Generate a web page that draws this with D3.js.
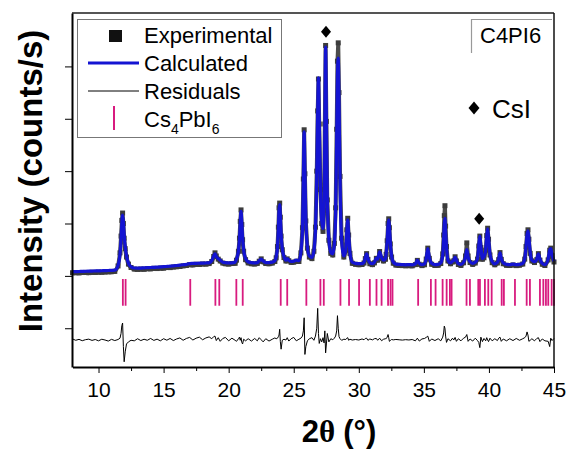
<!DOCTYPE html>
<html>
<head>
<meta charset="utf-8">
<script src="https://cdn.jsdelivr.net/npm/d3@7"></script>
<style>
  body { margin: 0; background: #fff; }
  svg { display: block; font-family: "Liberation Sans", Arial, sans-serif; }
</style>
</head>
<body>
<div id="chart"></div>
<script>
// 2theta sampling (deg), denser around the reflections
var twoTheta = [
  8, 8.25, 8.5, 8.75, 9, 9.25, 9.5, 9.75, 10, 10.25, 10.5, 10.75, 11, 11.25,
  11.5, 11.65, 11.73, 11.79, 11.85, 11.91, 11.97, 12.05, 12.15, 12.3, 12.5,
  12.75, 13, 13.25, 13.5, 13.75, 14, 14.25, 14.5, 14.75, 15, 15.25, 15.5, 15.75, 16, 16.25, 16.5, 16.75, 17, 17.25, 17.5, 17.75, 18, 18.25, 18.5,
  18.7, 18.85, 18.95, 19.05, 19.2, 19.35, 19.55,
  19.75, 20, 20.25, 20.5,
  20.6, 20.75, 20.83, 20.89, 20.95, 21.01, 21.07, 21.15, 21.3,
  21.5, 21.75, 22, 22.2, 22.35, 22.5, 22.65, 22.85, 23.1, 23.35, 23.55,
  23.65, 23.75, 23.82, 23.87, 23.92, 23.97, 24.03, 24.12, 24.25,
  24.4, 24.5, 24.62, 24.8, 25, 25.2,
  25.4, 25.55, 25.67, 25.74, 25.8, 25.86, 25.93, 26.05, 26.2, 26.4,
  26.55, 26.67, 26.77, 26.84, 26.9, 26.96, 27.05, 27.15, 27.25, 27.33,
  27.39, 27.45, 27.51, 27.58, 27.7, 27.85, 28, 28.12, 28.22, 28.3,
  28.36, 28.42, 28.48, 28.56, 28.68, 28.85, 29, 29.08, 29.15, 29.22, 29.32, 29.5,
  29.75, 30, 30.25, 30.4, 30.5, 30.6, 30.7, 30.85, 31.05, 31.2, 31.35, 31.45, 31.6, 31.75, 31.9, 32.05,
  32.1, 32.18, 32.25, 32.3, 32.35, 32.42, 32.52, 32.65, 32.85, 33.1, 33.35, 33.6, 33.85, 34.1,
  34.35, 34.5, 34.65, 34.85, 35.05, 35.18, 35.3, 35.42, 35.6, 35.85, 36.1, 36.3,
  36.45, 36.52, 36.57, 36.62, 36.67, 36.74, 36.85, 37.05, 37.2, 37.3, 37.4, 37.5, 37.65, 37.85,
  38.05, 38.2, 38.3, 38.4, 38.55, 38.75, 38.95, 39.12, 39.22, 39.3, 39.38, 39.5, 39.62,
  39.75, 39.83, 39.9, 39.97, 40.08, 40.25, 40.45, 40.65, 40.75, 40.85, 40.95, 41.1,
  41.35, 41.6, 41.85, 42.1, 42.35, 42.6, 42.75, 42.85, 42.93, 43, 43.07, 43.17, 43.3,
  43.5, 43.68, 43.8, 43.92, 44.1, 44.3, 44.55, 44.67, 44.75, 44.85, 45
];

var calculated = [
  80, 82, 84, 86, 88, 90, 92, 94, 96, 98, 100, 103, 106, 110,
  200, 420, 700, 1000, 1160, 1020, 780, 560, 380, 240, 175,
  150, 148, 150, 153, 157, 160, 163, 167, 171, 175, 180, 186, 192, 198, 205, 212, 220, 235, 238, 240, 242, 244, 246, 250,
  290, 380, 420, 370, 330, 300, 262,
  252, 248, 250, 262,
  320, 480, 700, 1000, 1230, 1000, 720, 500, 330,
  270, 252, 248, 252, 290, 320, 285, 255, 255, 262, 290,
  360, 560, 900, 1250, 1360, 1150, 800, 520, 370,
  300, 330, 300, 275, 280, 300,
  290, 450, 900, 1800, 2750, 2000, 1100, 550, 380, 350,
  480, 900, 1900, 3100, 3780, 3000, 1700, 1050, 900, 1300,
  2800, 4370, 3000, 1500, 700, 450, 420, 600, 1200, 2600,
  3800, 4160, 3300, 1800, 700, 380, 500, 850, 1070, 800, 450, 260,
  240, 235, 235, 260, 340, 420, 330, 250, 235, 260, 340, 320, 460, 350, 300, 330,
  420, 650, 960, 1070, 940, 640, 380, 260, 225, 218, 215, 212, 215, 212,
  230, 300, 240, 215, 230, 330, 520, 350, 240, 215, 220, 250,
  400, 700, 1000, 1100, 850, 550, 300, 250, 280, 300, 360, 300, 235, 220,
  260, 360, 500, 360, 270, 240, 260, 330, 580, 760, 560, 330, 360,
  500, 760, 900, 720, 420, 270, 230, 260, 320, 440, 330, 250,
  220, 215, 225, 215, 220, 240, 330, 550, 780, 860, 720, 450, 300,
  270, 320, 420, 320, 240, 215, 320, 500, 520, 400, 280
];

var experimental = [
  60, 62, 58, 64, 66, 62, 70, 66, 72, 70, 76, 78, 80, 86,
  190, 440, 760, 1060, 1200, 1000, 720, 520, 360, 225, 160,
  130, 125, 132, 128, 138, 134, 145, 140, 150, 148, 160, 158, 170, 176, 180, 192, 198, 215, 210, 222, 218, 228, 225, 235,
  275, 370, 440, 380, 320, 285, 245,
  232, 226, 236, 240,
  300, 470, 720, 1040, 1260, 980, 690, 470, 310,
  248, 232, 228, 238, 280, 325, 270, 236, 232, 245, 275,
  345, 560, 930, 1300, 1390, 1120, 760, 500, 350,
  285, 325, 290, 258, 262, 280,
  275, 440, 920, 1850, 2790, 1950, 1050, 530, 360, 330,
  470, 930, 2000, 3150, 3760, 2900, 1650, 1000, 850, 1250,
  2900, 4400, 2950, 1450, 680, 430, 400, 620, 1300, 2800,
  4100, 4450, 3500, 1900, 720, 360, 490, 880, 1100, 780, 430, 240,
  222, 214, 218, 245, 330, 425, 315, 232, 215, 248, 335, 300, 465, 330, 285, 318,
  410, 670, 1000, 1090, 920, 610, 360, 242, 206, 200, 196, 194, 198, 192,
  215, 296, 222, 196, 212, 320, 530, 335, 222, 198, 202, 236,
  420, 780, 1150, 1340, 950, 560, 285, 232, 265, 288, 365, 285, 218, 200,
  250, 380, 630, 380, 255, 220, 245, 320, 570, 760, 540, 318, 345,
  490, 770, 910, 700, 400, 252, 212, 246, 310, 445, 315, 232,
  202, 198, 210, 196, 204, 226, 320, 560, 810, 880, 700, 430, 285,
  255, 310, 425, 300, 222, 198, 305, 490, 530, 385, 265
];

// difference curve, already shifted down like in the original plot
var residuals = [
  -1205, -1230, -1212, -1238, -1218, -1208, -1232, -1215, -1240, -1210, -1225, -1245, -1212, -1235,
  -1215, -1190, -1100, -950, -900, -1350, -1640, -1450, -1300, -1260, -1230,
  -1240, -1200, -1235, -1210, -1230, -1195, -1232, -1208, -1240, -1200, -1228, -1195, -1235, -1205, -1185, -1230, -1195, -1175, -1225, -1190, -1170, -1220, -1185, -1165,
  -1200, -1160, -1150, -1235, -1180, -1250, -1195,
  -1175, -1240, -1190, -1230,
  -1250, -1200, -1170, -1230, -1180, -1270, -1300, -1210, -1240,
  -1200, -1245, -1195, -1240, -1180, -1220, -1260, -1200, -1245, -1210, -1185,
  -1200, -1190, -1160, -1130, -1020, -1250, -1400, -1230, -1210,
  -1225, -1180, -1245, -1200, -1175, -1240,
  -1210, -1190, -1150, -1050, -800, -1500, -1350, -1240, -1200, -1180,
  -1230, -1150, -1000, -620, -1100, -1290, -1200, -1260, -1180, -1280,
  -1050, -1470, -1300, -1100, -1260, -1200, -1220, -1190, -1150, -1050,
  -760, -1000, -1160, -1200, -1230, -1210, -1215, -1190, -1180, -1230, -1210, -1225,
  -1215, -1225, -1205, -1220, -1195, -1190, -1230, -1205, -1222, -1200, -1195, -1230, -1190, -1238, -1210, -1200,
  -1200, -1170, -1120, -1180, -1250, -1235, -1215, -1222, -1214, -1220, -1226, -1218, -1224, -1215,
  -1240, -1190, -1245, -1205, -1195, -1175, -1150, -1250, -1205, -1235, -1200, -1240,
  -1170, -1090, -960, -1000, -1150, -1270, -1200, -1240, -1190, -1225, -1175, -1250, -1200, -1240,
  -1190, -1170, -1120, -1250, -1205, -1245, -1190, -1235, -1270, -1370, -1170, -1255, -1195,
  -1240, -1180, -1225, -1255, -1190, -1240, -1200, -1235, -1190, -1170, -1250, -1205,
  -1240, -1200, -1235, -1195, -1230, -1200, -1180, -1150, -1070, -1130, -1250, -1230, -1200,
  -1240, -1195, -1180, -1255, -1205, -1240, -1250, -1350, -1190, -1235, -1195
];

// Cs4PbI6 reflection positions
var braggPositions = [
  11.87, 12.08, 17.05, 18.98, 19.28, 20.59, 21.08, 24.0, 24.5, 25.97,
  27.05, 27.31, 28.59, 29.25, 30.02, 30.85, 31.36, 31.75, 32.25, 32.44, 32.59,
  34.56, 35.54, 35.9, 36.44, 36.75, 37.0, 37.13, 38.28, 38.54, 39.18, 39.31,
  39.69, 39.95, 40.21, 40.98, 41.15, 42.0, 42.9, 43.15, 43.92, 44.18, 44.38,
  44.56, 44.82, 45.0
];

// CsI impurity peaks (position, marker height)
var csiPeaks = [27.48, 39.25];
var csiMarkHeight = [4660, 1090];

var xTicks = [10, 15, 20, 25, 30, 35, 40, 45];
var xMinorTicks = [12.5, 17.5, 22.5, 27.5, 32.5, 37.5, 42.5];
var yTicks = [-1000, 0, 1000, 2000, 3000, 4000];

var legendLabels = ["Experimental", "Calculated", "Residuals"];

if (calculated.length != twoTheta.length || experimental.length != twoTheta.length || residuals.length != twoTheta.length) {
  console.error("length mismatch", twoTheta.length, calculated.length, experimental.length, residuals.length);
}

function diamond(sel, cx, cy, w, h) {
  sel.append("path")
    .attr("d", "M" + cx + "," + (cy - h/2) + "L" + (cx + w/2) + "," + cy + "L" + cx + "," + (cy + h/2) + "L" + (cx - w/2) + "," + cy + "Z")
    .attr("fill", "#000");
}

function drawChart() {
  var svg = d3.select("#chart").append("svg")
    .attr("width", 566)
    .attr("height", 454);

  svg.append("rect").attr("width", 566).attr("height", 454).attr("fill", "#fff");

  var x = d3.scaleLinear().domain([8, 45]).range([72.5, 554]);
  var y = d3.scaleLinear().domain([-1740, 5020]).range([367, 13]);

  var rows = twoTheta.map(function(t, i) {
    return {t: t, calc: calculated[i], obs: experimental[i], res: residuals[i]};
  });

  // bragg ticks
  svg.append("g")
    .selectAll("line")
    .data(braggPositions)
    .join("line")
      .attr("x1", function(d) { return x(d); })
      .attr("x2", function(d) { return x(d); })
      .attr("y1", y(-60))
      .attr("y2", y(-570))
      .style("stroke", "#d81b7f")
      .style("stroke-width", 1.8);

  // residual curve
  svg.append("path")
    .datum(rows)
    .attr("fill", "none")
    .attr("stroke", "#000")
    .attr("stroke-width", 1)
    .attr("d", d3.line().x(function(d) { return x(d.t); }).y(function(d) { return y(d.res); }));

  // experimental points: dense squares make a grey band
  svg.append("path")
    .datum(rows)
    .attr("fill", "none")
    .attr("stroke", "#4a4a4a")
    .attr("stroke-width", 4)
    .attr("stroke-linejoin", "round")
    .attr("d", d3.line().x(function(d) { return x(d.t); }).y(function(d) { return y(d.obs) + 0.5; }));
  svg.append("g")
    .selectAll("rect")
    .data(rows)
    .join("rect")
      .attr("x", function(d) { return x(d.t) - 2.5; })
      .attr("y", function(d) { return y(d.obs) - 2.5; })
      .attr("width", 5)
      .attr("height", 5)
      .attr("fill", "#3c3c3c");

  // calculated profile
  svg.append("path")
    .datum(rows)
    .attr("fill", "none")
    .attr("stroke", "#1414d2")
    .attr("stroke-width", 3.2)
    .attr("stroke-linejoin", "round")
    .attr("d", d3.line().x(function(d) { return x(d.t); }).y(function(d) { return y(d.calc); }).curve(d3.curveMonotoneX));

  // CsI markers
  csiPeaks.forEach(function(p, i) {
    diamond(svg, x(p), y(csiMarkHeight[i]), 10, 12);
  });

  // frame top / right
  svg.append("line").attr("x1", 72).attr("x2", 554).attr("y1", 13).attr("y2", 13)
    .style("stroke", "#555").style("stroke-width", 2);
  svg.append("line").attr("x1", 554).attr("x2", 554).attr("y1", 13).attr("y2", 367)
    .style("stroke", "#111").style("stroke-width", 1.5);

  // axes
  var xAxis = svg.append("g")
    .attr("transform", "translate(0,367)")
    .call(d3.axisBottom(x).tickValues(xTicks).tickSize(6).tickSizeOuter(0).tickPadding(9).tickFormat(d3.format("d")));
  svg.append("g")
    .attr("transform", "translate(0,367)")
    .call(d3.axisBottom(x).tickValues(xMinorTicks).tickSize(4).tickSizeOuter(0).tickFormat(""))
    .select(".domain").remove();
  xAxis.select(".domain").style("stroke", "#000").style("stroke-width", 2);
  xAxis.selectAll("text").style("font-size", "21px").style("font-family", "'Liberation Sans', Arial, sans-serif").attr("fill", "#000");

  var yAxis = svg.append("g")
    .attr("transform", "translate(72,0)")
    .call(d3.axisLeft(y).tickValues(yTicks).tickSize(7).tickSizeOuter(0).tickFormat(""));
  yAxis.select(".domain").style("stroke", "#000").style("stroke-width", 2);

  // axis titles
  svg.append("text")
    .attr("transform", "translate(42,181) rotate(-90)")
    .attr("text-anchor", "middle")
    .style("font-weight", "bold")
    .style("font-size", "33px")
    .text("Intensity (counts/s)");

  var xt = svg.append("text")
    .attr("x", 339)
    .attr("y", 442)
    .attr("text-anchor", "middle")
    .style("font-weight", "bold")
    .style("font-size", "31px");
  xt.append("tspan").text("2");
  xt.append("tspan").style("font-family", "'Liberation Serif', 'Times New Roman', serif").text("\u03B8");
  xt.append("tspan").attr("dx", 8).text("(\u00B0)");

  // legend
  var lg = svg.append("g");
  lg.append("rect")
    .attr("x", 77.5).attr("y", 19.5).attr("width", 204).attr("height", 118)
    .attr("fill", "#fff").attr("stroke", "#777").attr("stroke-width", 1);
  lg.append("rect").attr("x", 109).attr("y", 30).attr("width", 13).attr("height", 12).attr("fill", "#111");
  lg.append("line").attr("x1", 88).attr("x2", 139).attr("y1", 63).attr("y2", 63)
    .style("stroke", "#1414d2").style("stroke-width", 3);
  lg.append("line").attr("x1", 88).attr("x2", 139).attr("y1", 91).attr("y2", 91)
    .style("stroke", "#000").style("stroke-width", 1);
  lg.append("line").attr("x1", 114).attr("x2", 114).attr("y1", 106).attr("y2", 130)
    .style("stroke", "#d81b7f").style("stroke-width", 2);
  legendLabels.forEach(function(l, i) {
    lg.append("text").attr("x", 144).attr("y", 43 + i * 28)
      .style("font-size", "22px").text(l);
  });
  var cs = lg.append("text").attr("x", 144).attr("y", 127).style("font-size", "22px");
  cs.append("tspan").text("Cs");
  cs.append("tspan").attr("dy", 7).style("font-size", "14px").text("4");
  cs.append("tspan").attr("dy", -7).text("PbI");
  cs.append("tspan").attr("dy", 7).style("font-size", "14px").text("6");

  // sample tag
  svg.append("path").attr("d", "M471.5,53 L471.5,19.5 L552,19.5")
    .attr("fill", "none").attr("stroke", "#999").attr("stroke-width", 1.2);
  svg.append("text").attr("x", 480).attr("y", 43).style("font-size", "22px").text("C4PI6");

  // CsI key
  diamond(svg, 474, 108, 11, 13);
  svg.append("text").attr("x", 492).attr("y", 118).style("font-size", "26px").text("CsI");
}

drawChart();
</script>
</body>
</html>
